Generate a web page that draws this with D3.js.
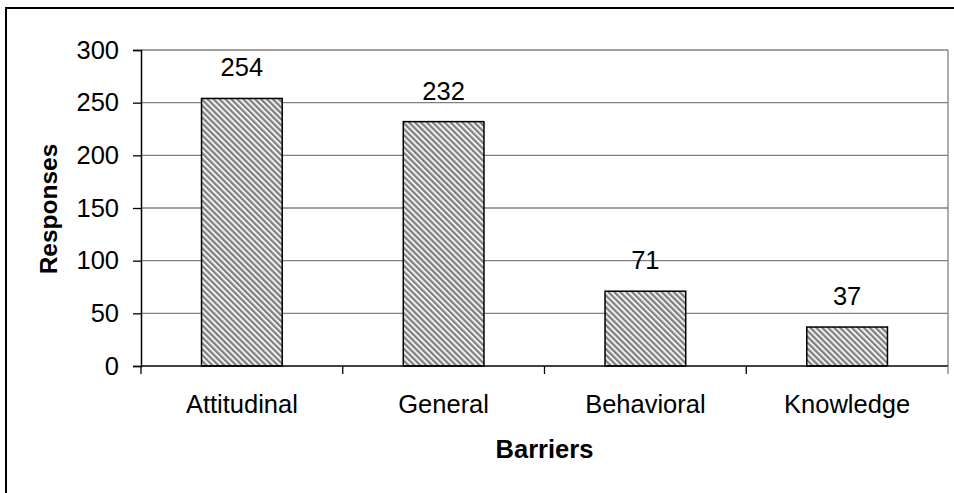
<!DOCTYPE html>
<html>
<head>
<meta charset="utf-8">
<script src="https://cdn.jsdelivr.net/npm/d3@7"></script>
<style>
  html, body { margin: 0; padding: 0; background: #fff; }
  svg { display: block; }
  text { font-family: "Liberation Sans", Arial, sans-serif; fill: #000; }
</style>
</head>
<body>
<svg id="chart" width="954" height="493"></svg>
<script>
// Survey responses per barrier type
const categories = ["Attitudinal", "General", "Behavioral", "Knowledge"];
const responses = [254, 232, 71, 37];
const yTicks = [0, 50, 100, 150, 200, 250, 300];
const xTitle = "Barriers";
const yTitle = "Responses";

const svg = d3.select("#chart");
const W = 954, H = 493;
const plot = { left: 141, top: 50, right: 948, bottom: 366 };
const FS = 25.5;

svg.append("rect").attr("width", W).attr("height", H).attr("fill", "#fff");

// diagonal hatch fill for bars
const defs = svg.append("defs");
const pat = defs.append("pattern")
  .attr("id", "hatch")
  .attr("patternUnits", "userSpaceOnUse")
  .attr("width", 4.2).attr("height", 4.2)
  .attr("patternTransform", "rotate(-45)");
pat.append("rect").attr("width", 4.2).attr("height", 4.2).attr("fill", "#f2f2f2");
pat.append("rect").attr("width", 2.2).attr("height", 4.2).attr("fill", "#7f7f7f");

// outer frame
svg.append("rect")
  .attr("x", 6).attr("y", 8)
  .attr("width", 1000).attr("height", 600)
  .attr("fill", "none").attr("stroke", "#000").attr("stroke-width", 2);

const x = d3.scaleBand()
  .domain(categories)
  .range([plot.left, plot.right])
  .paddingInner(0).paddingOuter(0);

const y = d3.scaleLinear()
  .domain([0, 300])
  .range([plot.bottom, plot.top]);

// horizontal gridlines
svg.append("g")
  .selectAll("line")
  .data(yTicks.filter(d => d > 0))
  .join("line")
  .attr("x1", plot.left).attr("x2", plot.right)
  .attr("y1", d => y(d)).attr("y2", d => y(d))
  .attr("stroke", "#808080").attr("stroke-width", 1.3);

// right edge of plot area
svg.append("line")
  .attr("x1", plot.right).attr("x2", plot.right)
  .attr("y1", plot.top).attr("y2", plot.bottom)
  .attr("stroke", "#808080").attr("stroke-width", 1.3);

// bars
const barW = x.bandwidth() * 0.4;
svg.append("g")
  .selectAll("rect")
  .data(categories)
  .join("rect")
  .attr("x", d => x(d) + (x.bandwidth() - barW) / 2)
  .attr("y", (d, i) => y(responses[i]))
  .attr("width", barW)
  .attr("height", (d, i) => y(0) - y(responses[i]))
  .attr("fill", "url(#hatch)")
  .attr("stroke", "#000").attr("stroke-width", 1.5);

// value labels
svg.append("g")
  .selectAll("text")
  .data(categories)
  .join("text")
  .attr("x", d => x(d) + x.bandwidth() / 2)
  .attr("y", (d, i) => y(responses[i]) - 22)
  .attr("text-anchor", "middle")
  .attr("font-size", FS)
  .text((d, i) => responses[i]);

// y axis
const yAxis = d3.axisLeft(y).tickValues(yTicks).tickSize(8).tickPadding(14);
const gy = svg.append("g")
  .attr("transform", `translate(${plot.left},0)`)
  .call(yAxis);
gy.select(".domain").attr("stroke", "#000").attr("stroke-width", 1.5);
gy.selectAll(".tick line").attr("stroke", "#000").attr("stroke-width", 1.3);
gy.selectAll(".tick text")
  .attr("font-size", FS)
  .attr("font-family", "Liberation Sans, Arial, sans-serif")
  .attr("fill", "#000");

// x axis: ticks at category boundaries
const gx = svg.append("g")
  .attr("transform", `translate(0,${plot.bottom})`);
gx.append("line")
  .attr("x1", plot.left).attr("x2", plot.right)
  .attr("stroke", "#000").attr("stroke-width", 1.5);
const bounds = categories.map(d => x(d)).concat([plot.right]);
gx.selectAll("line.tick")
  .data(bounds)
  .join("line")
  .attr("class", "tick")
  .attr("x1", d => d).attr("x2", d => d)
  .attr("y1", 0).attr("y2", 8)
  .attr("stroke", (d, i) => i === bounds.length - 1 ? "#808080" : "#000")
  .attr("stroke-width", 1.3);
gx.selectAll("text")
  .data(categories)
  .join("text")
  .attr("x", d => x(d) + x.bandwidth() / 2)
  .attr("y", 47)
  .attr("text-anchor", "middle")
  .attr("font-size", FS)
  .text(d => d);

// axis titles
svg.append("text")
  .attr("x", (plot.left + plot.right) / 2)
  .attr("y", 458)
  .attr("text-anchor", "middle")
  .attr("font-size", FS)
  .attr("font-weight", "bold")
  .text(xTitle);

svg.append("text")
  .attr("transform", "translate(57,209) rotate(-90)")
  .attr("text-anchor", "middle")
  .attr("font-size", 24.5)
  .attr("font-weight", "bold")
  .text(yTitle);
</script>
</body>
</html>
